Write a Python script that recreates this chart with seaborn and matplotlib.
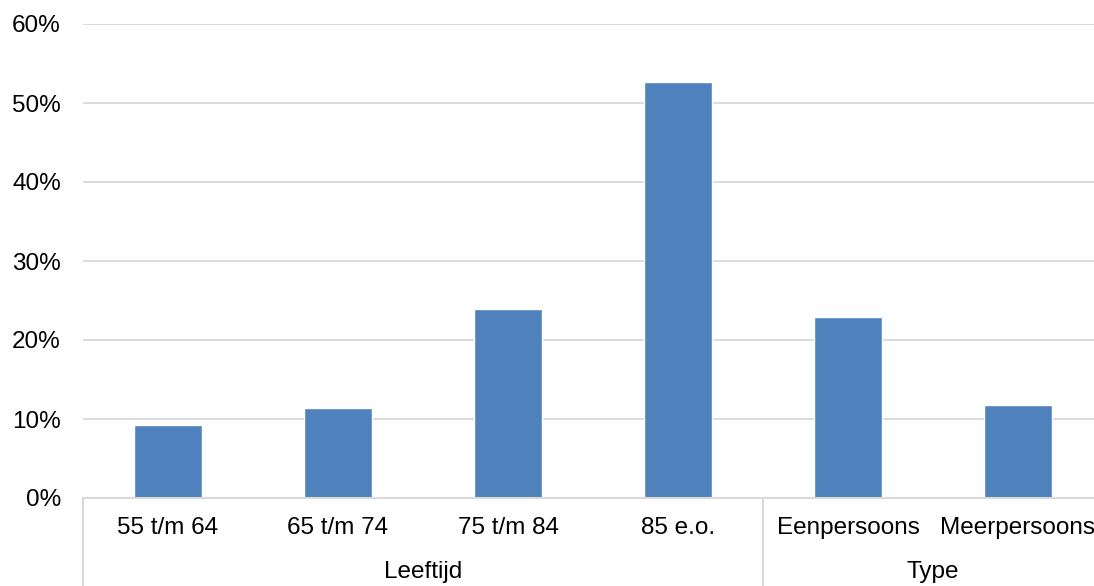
import matplotlib
matplotlib.use('Agg')
import matplotlib.pyplot as plt
import matplotlib.transforms as mtransforms
from matplotlib.ticker import PercentFormatter
import pandas as pd
import seaborn as sns

categories = ["55 t/m 64", "65 t/m 74", "75 t/m 84", "85 e.o.", "Eenpersoons", "Meerpersoons"]
groups = ["Leeftijd", "Leeftijd", "Leeftijd", "Leeftijd", "Type", "Type"]
values = [9.2, 11.4, 23.9, 52.6, 22.9, 11.8]

df = pd.DataFrame({"categorie": categories, "groep": groups, "waarde": values})

sns.set_style("white")
plt.rcParams['font.family'] = ['Liberation Sans', 'DejaVu Sans']

fig = plt.figure(figsize=(10.94, 5.86), dpi=100)
# axes runs slightly past the right edge, like the original export
ax = fig.add_axes([83 / 1094, 88 / 586, 1020 / 1094, 474 / 586])

sns.barplot(data=df, x="categorie", y="waarde", color="#4f81bd", saturation=1,
            width=0.4, ax=ax)

grid_col = "#d9d9d9"
ax.set_ylim(0, 60)
ax.set_xlim(-0.5, len(categories) - 0.5)
ax.set_yticks(range(0, 61, 10))
ax.yaxis.set_major_formatter(PercentFormatter(decimals=0))
ax.yaxis.grid(True, color=grid_col, linewidth=1.3)
ax.set_axisbelow(True)
for s in ["left", "right", "top"]:
    ax.spines[s].set_visible(False)
ax.spines["bottom"].set_color(grid_col)
ax.spines["bottom"].set_linewidth(1.5)
ax.tick_params(axis="both", length=0, labelsize=17.5, colors="black")
ax.tick_params(axis="y", pad=16)
ax.tick_params(axis="x", pad=14)
ax.set_xlabel("")
ax.set_ylabel("")

# group level of the category axis
trans = mtransforms.blended_transform_factory(ax.transData, ax.transAxes)
bottom = -88 / 474
edges = [-0.5]
for i in range(1, len(groups)):
    if groups[i] != groups[i - 1]:
        edges.append(i - 0.5)
edges.append(len(groups) - 0.5)
for x in edges:
    ax.plot([x, x], [0, bottom], color=grid_col, lw=1.5, transform=trans, clip_on=False)
for g in dict.fromkeys(groups):
    idx = [i for i, gg in enumerate(groups) if gg == g]
    xc = (idx[0] + idx[-1]) / 2
    ax.text(xc, -74 / 474, g, transform=trans, ha="center", va="center",
            fontsize=17.5, color="black")

plt.savefig("out.png", dpi=100)
plt.close()
